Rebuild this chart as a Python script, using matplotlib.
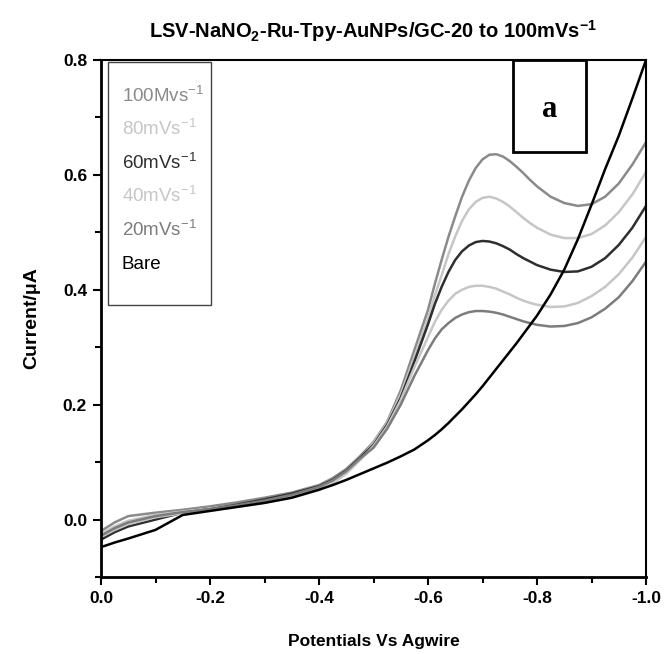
import matplotlib
matplotlib.use("Agg")
import matplotlib.pyplot as plt
from matplotlib.patches import Rectangle

plt.rcParams['font.family'] = ['Liberation Sans', 'DejaVu Sans']
plt.rcParams['mathtext.default'] = 'regular'

# Potential (V vs Ag wire)
potential = [0.0, -0.025, -0.05, -0.1, -0.15, -0.2, -0.25, -0.3, -0.35,
             -0.4, -0.425, -0.45, -0.475, -0.5, -0.525, -0.55, -0.575,
             -0.6, -0.6125, -0.625, -0.6375, -0.65, -0.6625, -0.675, -0.6875,
             -0.7, -0.7125, -0.725, -0.7375, -0.75, -0.7625, -0.775, -0.7875,
             -0.8, -0.825, -0.85, -0.875, -0.9, -0.925, -0.95, -0.975, -1.0]

i_100 = [-0.020, -0.005, 0.006, 0.012, 0.017, 0.023, 0.030, 0.038, 0.047,
         0.060, 0.072, 0.088, 0.110, 0.135, 0.170, 0.225, 0.295,
         0.365, 0.410, 0.452, 0.492, 0.528, 0.562, 0.590, 0.612,
         0.627, 0.635, 0.636, 0.632, 0.624, 0.614, 0.603, 0.591,
         0.580, 0.562, 0.551, 0.546, 0.549, 0.562, 0.585, 0.618, 0.657]

i_80 = [-0.025, -0.012, -0.002, 0.008, 0.014, 0.019, 0.025, 0.032, 0.041,
        0.054, 0.066, 0.083, 0.106, 0.133, 0.168, 0.218, 0.283,
        0.350, 0.390, 0.425, 0.462, 0.493, 0.520, 0.540, 0.553,
        0.560, 0.562, 0.559, 0.553, 0.545, 0.535, 0.525, 0.516,
        0.508, 0.496, 0.490, 0.490, 0.497, 0.512, 0.535, 0.566, 0.605]

i_60 = [-0.035, -0.022, -0.012, 0.000, 0.012, 0.018, 0.026, 0.035, 0.045,
        0.058, 0.069, 0.085, 0.107, 0.130, 0.165, 0.212, 0.275,
        0.340, 0.375, 0.405, 0.431, 0.452, 0.467, 0.477, 0.483,
        0.485, 0.484, 0.481, 0.476, 0.470, 0.462, 0.455, 0.449,
        0.443, 0.435, 0.431, 0.432, 0.440, 0.455, 0.478, 0.508, 0.546]

i_40 = [-0.030, -0.018, -0.008, 0.004, 0.011, 0.016, 0.022, 0.029, 0.038,
        0.051, 0.063, 0.080, 0.103, 0.128, 0.162, 0.208, 0.265,
        0.318, 0.344, 0.365, 0.381, 0.393, 0.400, 0.405, 0.407,
        0.407, 0.405, 0.402, 0.397, 0.392, 0.386, 0.381, 0.377,
        0.374, 0.370, 0.371, 0.377, 0.389, 0.405, 0.427, 0.456, 0.492]

i_20 = [-0.028, -0.015, -0.005, 0.006, 0.013, 0.018, 0.025, 0.033, 0.043,
        0.057, 0.068, 0.084, 0.106, 0.125, 0.158, 0.200, 0.250,
        0.295, 0.315, 0.331, 0.342, 0.351, 0.357, 0.361, 0.363,
        0.363, 0.362, 0.360, 0.357, 0.353, 0.349, 0.345, 0.342,
        0.339, 0.336, 0.337, 0.342, 0.352, 0.367, 0.387, 0.415, 0.449]

i_bare = [-0.048, -0.040, -0.033, -0.018, 0.008, 0.015, 0.022, 0.029, 0.038,
          0.052, 0.060, 0.069, 0.079, 0.089, 0.099, 0.110, 0.122,
          0.138, 0.147, 0.157, 0.168, 0.180, 0.192, 0.205, 0.218,
          0.232, 0.247, 0.262, 0.277, 0.292, 0.307, 0.323, 0.339,
          0.355, 0.392, 0.435, 0.488, 0.548, 0.610, 0.668, 0.733, 0.800]

labels = ['100Mvs$^{-1}$', '80mVs$^{-1}$', '60mVs$^{-1}$', '40mVs$^{-1}$', '20mVs$^{-1}$', 'Bare']
series = [i_100, i_80, i_60, i_40, i_20, i_bare]
colors = ['#8a8a8a', '#c6c6c6', '#2e2e2e', '#c6c6c6', '#7c7c7c', '#000000']

fig = plt.figure(figsize=(6.64, 6.54), dpi=100)
ax = fig.add_axes([101/664, 1-577/654, 545/664, 517/654])

for y, c in zip(series, colors):
    ax.plot(potential, y, color=c, lw=1.8, solid_capstyle='round',
            solid_joinstyle='round')

ax.set_xlim(0.0, -1.0)
ax.set_ylim(-0.1, 0.8)
ax.set_xticks([0.0, -0.2, -0.4, -0.6, -0.8, -1.0])
ax.set_xticks([-0.1, -0.3, -0.5, -0.7, -0.9], minor=True)
ax.set_yticks([0.0, 0.2, 0.4, 0.6, 0.8])
ax.set_yticks([-0.1, 0.1, 0.3, 0.5, 0.7], minor=True)
ax.set_xticklabels(['0.0', '-0.2', '-0.4', '-0.6', '-0.8', '-1.0'])
ax.set_yticklabels(['0.0', '0.2', '0.4', '0.6', '0.8'])
ax.tick_params(which='major', direction='out', length=6, width=1.5,
               labelsize=12.5, pad=4)
ax.tick_params(which='minor', direction='out', length=4, width=1.5)
for lab in ax.get_xticklabels() + ax.get_yticklabels():
    lab.set_fontweight('bold')
for s in ['left', 'bottom']:
    ax.spines[s].set_linewidth(2.0)
for s in ['top', 'right']:
    ax.spines[s].set_linewidth(1.5)

ax.set_xlabel('Potentials Vs Agwire', fontsize=12.5, fontweight='bold', labelpad=20)
ax.set_ylabel('Current/\u03bcA', fontsize=14, fontweight='bold', labelpad=16)
ax.set_title('LSV-NaNO$_2$-Ru-Tpy-AuNPs/GC-20 to 100mVs$^{-1}$',
             fontsize=14.5, fontweight='bold', pad=16)

# legend box (text only, coloured)
ax.add_patch(Rectangle((0.013, 0.526), 0.189, 0.470, transform=ax.transAxes,
                       fill=False, ec='#444444', lw=1.0, zorder=5))
ys = [0.919, 0.854, 0.789, 0.725, 0.660, 0.595]
for lab, c, yy in zip(labels, colors, ys):
    ax.text(0.0385, yy, lab, color=c, fontsize=13.5, transform=ax.transAxes,
            va='baseline', ha='left', zorder=6)

# panel label box
ax.add_patch(Rectangle((0.756, 0.822), 0.134, 0.178, transform=ax.transAxes,
                       fc='white', ec='black', lw=2.0, zorder=5))
ax.text(0.823, 0.905, 'a', transform=ax.transAxes, ha='center', va='center',
        fontsize=22, fontweight='bold', family='Liberation Serif', zorder=6)

fig.savefig('out.png', dpi=100)
